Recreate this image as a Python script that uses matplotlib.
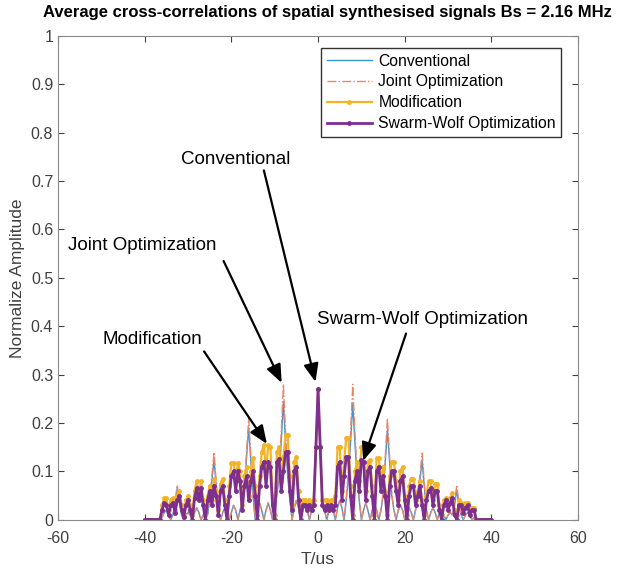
import numpy as np
import matplotlib.pyplot as plt

plt.rcParams['font.family'] = ['Liberation Sans', 'DejaVu Sans']
plt.rcParams['axes.unicode_minus'] = False

# time axis: -40 .. 40 us, 0.5 us step
t = np.arange(-40, 40.25, 0.5)

# each row covers 4 us (8 samples)
conventional = [
    0, 0, 0, 0, 0, 0, 0, 0,
    0.005, 0.015, 0.02, 0.01, 0.0, 0.01, 0.03, 0.065,
    0.035, 0.01, 0.0, 0.01, 0.015, 0.01, 0.0, 0.015,
    0.025, 0.015, 0.0, 0.01, 0.02, 0.01, 0.04, 0.08,
    0.125, 0.07, 0.02, 0.0, 0.015, 0.025, 0.015, 0.0,
    0.015, 0.03, 0.02, 0.0, 0.02, 0.04, 0.06, 0.13,
    0.19, 0.12, 0.05, 0.0, 0.02, 0.035, 0.02, 0.0,
    0.02, 0.035, 0.02, 0.0, 0.02, 0.05, 0.09, 0.16,
    0.245, 0.16, 0.09, 0.04, 0.0, 0.025, 0.04, 0.025,
    0.0, 0.02, 0.03, 0.02, 0.0, 0.02, 0.04, 0.15,
    0.27, 0.15, 0.04, 0.02, 0.0, 0.02, 0.03, 0.02,
    0.0, 0.025, 0.04, 0.025, 0.0, 0.04, 0.09, 0.16,
    0.24, 0.16, 0.09, 0.04, 0.0, 0.02, 0.035, 0.02,
    0.0, 0.02, 0.035, 0.02, 0.0, 0.02, 0.05, 0.12,
    0.186, 0.12, 0.05, 0.02, 0.0, 0.02, 0.03, 0.02,
    0.0, 0.015, 0.025, 0.015, 0.0, 0.02, 0.05, 0.08,
    0.124, 0.07, 0.02, 0.0, 0.015, 0.025, 0.015, 0.0,
    0.015, 0.02, 0.01, 0.0, 0.01, 0.015, 0.01, 0.03,
    0.062, 0.03, 0.01, 0.0, 0.01, 0.015, 0.01, 0.0,
    0.005, 0, 0, 0, 0, 0, 0, 0,
    0]

joint = [
    0, 0, 0, 0, 0, 0, 0, 0,
    0.005, 0.015, 0.02, 0.01, 0.0, 0.01, 0.035, 0.072,
    0.04, 0.01, 0.0, 0.01, 0.015, 0.01, 0.0, 0.015,
    0.025, 0.015, 0.0, 0.01, 0.02, 0.01, 0.045, 0.09,
    0.14, 0.08, 0.02, 0.0, 0.015, 0.025, 0.015, 0.0,
    0.015, 0.03, 0.02, 0.0, 0.02, 0.045, 0.07, 0.14,
    0.21, 0.13, 0.05, 0.0, 0.02, 0.035, 0.02, 0.0,
    0.02, 0.035, 0.02, 0.0, 0.02, 0.055, 0.1, 0.18,
    0.28, 0.18, 0.1, 0.045, 0.0, 0.025, 0.04, 0.025,
    0.0, 0.02, 0.03, 0.02, 0.0, 0.02, 0.04, 0.15,
    0.27, 0.15, 0.04, 0.02, 0.0, 0.02, 0.03, 0.02,
    0.0, 0.025, 0.04, 0.025, 0.0, 0.045, 0.1, 0.18,
    0.28, 0.18, 0.1, 0.045, 0.0, 0.02, 0.035, 0.02,
    0.0, 0.02, 0.035, 0.02, 0.0, 0.02, 0.055, 0.13,
    0.21, 0.13, 0.055, 0.02, 0.0, 0.02, 0.03, 0.02,
    0.0, 0.015, 0.025, 0.015, 0.0, 0.02, 0.055, 0.09,
    0.138, 0.08, 0.02, 0.0, 0.015, 0.025, 0.015, 0.0,
    0.015, 0.02, 0.01, 0.0, 0.01, 0.015, 0.01, 0.035,
    0.072, 0.035, 0.01, 0.0, 0.01, 0.015, 0.01, 0.0,
    0.005, 0, 0, 0, 0, 0, 0, 0,
    0]

modification = [
    0, 0, 0, 0, 0, 0, 0, 0,
    0.03, 0.045, 0.045, 0.02, 0.04, 0.045, 0.02, 0.05,
    0.06, 0.03, 0.01, 0.04, 0.05, 0.03, 0.01, 0.06,
    0.08, 0.055, 0.08, 0.04, 0.01, 0.05, 0.07, 0.04,
    0.085, 0.06, 0.02, 0.075, 0.085, 0.04, 0.01, 0.07,
    0.118, 0.118, 0.08, 0.118, 0.1, 0.03, 0.09, 0.11,
    0.05, 0.1, 0.128, 0.07, 0.01, 0.09, 0.14, 0.155,
    0.1, 0.155, 0.15, 0.05, 0.01, 0.14, 0.15, 0.08,
    0.13, 0.175, 0.175, 0.09, 0.03, 0.12, 0.13, 0.06,
    0.02, 0.04, 0.04, 0.035, 0.04, 0.035, 0.04, 0.15,
    0.27, 0.15, 0.04, 0.04, 0.04, 0.035, 0.04, 0.04,
    0.05, 0.15, 0.15, 0.06, 0.12, 0.17, 0.17, 0.07,
    0.01, 0.1, 0.12, 0.08, 0.15, 0.15, 0.06, 0.12,
    0.124, 0.07, 0.01, 0.127, 0.127, 0.08, 0.11, 0.06,
    0.01, 0.09, 0.12, 0.12, 0.08, 0.04, 0.1, 0.11,
    0.05, 0.01, 0.07, 0.085, 0.085, 0.04, 0.06, 0.08,
    0.04, 0.01, 0.05, 0.08, 0.08, 0.04, 0.075, 0.075,
    0.03, 0.01, 0.04, 0.045, 0.03, 0.045, 0.055, 0.02,
    0.01, 0.04, 0.035, 0.02, 0.035, 0.035, 0.02, 0.025,
    0.025, 0, 0, 0, 0, 0, 0, 0,
    0]

swarm_wolf = [
    0, 0, 0, 0, 0, 0, 0, 0,
    0.02, 0.035, 0.03, 0.01, 0.03, 0.035, 0.015, 0.04,
    0.05, 0.02, 0.005, 0.03, 0.04, 0.02, 0.0, 0.045,
    0.065, 0.04, 0.065, 0.03, 0.0, 0.04, 0.06, 0.03,
    0.07, 0.05, 0.01, 0.06, 0.07, 0.03, 0.0, 0.05,
    0.09, 0.1, 0.06, 0.1, 0.08, 0.02, 0.07, 0.09,
    0.04, 0.08, 0.1, 0.05, 0.0, 0.07, 0.11, 0.12,
    0.07, 0.12, 0.11, 0.03, 0.0, 0.12, 0.125, 0.06,
    0.1, 0.14, 0.14, 0.06, 0.02, 0.1, 0.11, 0.04,
    0.0, 0.03, 0.03, 0.02, 0.03, 0.02, 0.03, 0.15,
    0.27, 0.15, 0.03, 0.02, 0.03, 0.02, 0.03, 0.02,
    0.03, 0.11, 0.12, 0.04, 0.09, 0.13, 0.13, 0.05,
    0.0, 0.08, 0.1, 0.06, 0.124, 0.12, 0.04, 0.1,
    0.11, 0.05, 0.0, 0.1, 0.11, 0.06, 0.09, 0.05,
    0.0, 0.07, 0.1, 0.1, 0.06, 0.03, 0.08, 0.09,
    0.04, 0.0, 0.05, 0.07, 0.07, 0.03, 0.05, 0.07,
    0.03, 0.0, 0.04, 0.06, 0.065, 0.03, 0.06, 0.06,
    0.02, 0.0, 0.03, 0.04, 0.02, 0.035, 0.045, 0.01,
    0.0, 0.03, 0.03, 0.015, 0.025, 0.03, 0.01, 0.02,
    0.02, 0, 0, 0, 0, 0, 0, 0,
    0]

for name, s in [('conventional', conventional), ('joint', joint),
                ('modification', modification), ('swarm_wolf', swarm_wolf)]:
    if len(s) != len(t):
        raise ValueError(f'{name}: {len(s)} values, expected {len(t)}')

fig = plt.figure(figsize=(6.17, 5.7), dpi=100)
ax = fig.add_axes([0.094, 0.088, 0.843, 0.849])

ax.plot(t, conventional, color='#3d94d4', lw=1.0, label='Conventional')
ax.plot(t, joint, color='#e8876a', lw=1.0, ls='-.', label='Joint Optimization')
ax.plot(t, modification, color='#f2b426', lw=1.6, marker='.', ms=5,
        label='Modification')
ax.plot(t, swarm_wolf, color='#7e2f8e', lw=2.0, marker='.', ms=5,
        label='Swarm-Wolf Optimization')

ax.set_xlim(-60, 60)
ax.set_ylim(0, 1)
ax.set_xticks(np.arange(-60, 61, 20))
ax.set_yticks(np.arange(0, 1.01, 0.1))
ax.set_yticklabels(['0'] + [f'{v:.1f}' for v in np.arange(0.1, 0.95, 0.1)] + ['1'])
ax.tick_params(direction='in', top=True, right=True, labelsize=11.5,
               colors='#404040', length=4)
ax.tick_params(axis='x', pad=8)
for sp in ax.spines.values():
    sp.set_color('#8a8a8a')
ax.set_xlabel('T/us', fontsize=12.5, color='#404040', labelpad=4)
ax.set_ylabel('Normalize Amplitude', fontsize=12.5, color='#404040', labelpad=4)
fig.text(0.530, 0.978,
         'Average cross-correlations of spatial synthesised signals Bs = 2.16 MHz',
         fontsize=12.0, fontweight='bold', ha='center', va='center')

leg = ax.legend(loc='upper right', fontsize=11.3, frameon=True, fancybox=False,
                handlelength=2.9, borderpad=0.35, labelspacing=0.38,
                handletextpad=0.4, borderaxespad=0,
                bbox_to_anchor=(0.968, 0.975))
leg.get_frame().set_edgecolor('black')
leg.get_frame().set_linewidth(1.0)

arrow = dict(arrowstyle='-|>,head_length=1.1,head_width=0.45', color='black',
             lw=1.6, shrinkA=0, shrinkB=0)
ax.text(-18.9, 0.745, 'Conventional', fontsize=13.5, ha='center', va='center')
ax.annotate('', xy=(-0.6, 0.285), xytext=(-12.5, 0.722), arrowprops=arrow)
ax.text(-40.5, 0.567, 'Joint Optimization', fontsize=13.5, ha='center', va='center')
ax.annotate('', xy=(-8.4, 0.283), xytext=(-21.8, 0.535), arrowprops=arrow)
ax.text(-38.3, 0.373, 'Modification', fontsize=13.5, ha='center', va='center')
ax.annotate('', xy=(-11.8, 0.157), xytext=(-26.3, 0.348), arrowprops=arrow)
ax.text(24.2, 0.414, 'Swarm-Wolf Optimization', fontsize=13.5, ha='center', va='center')
ax.annotate('', xy=(10.4, 0.122), xytext=(20.3, 0.385), arrowprops=arrow)

fig.savefig('out.png', dpi=100)
